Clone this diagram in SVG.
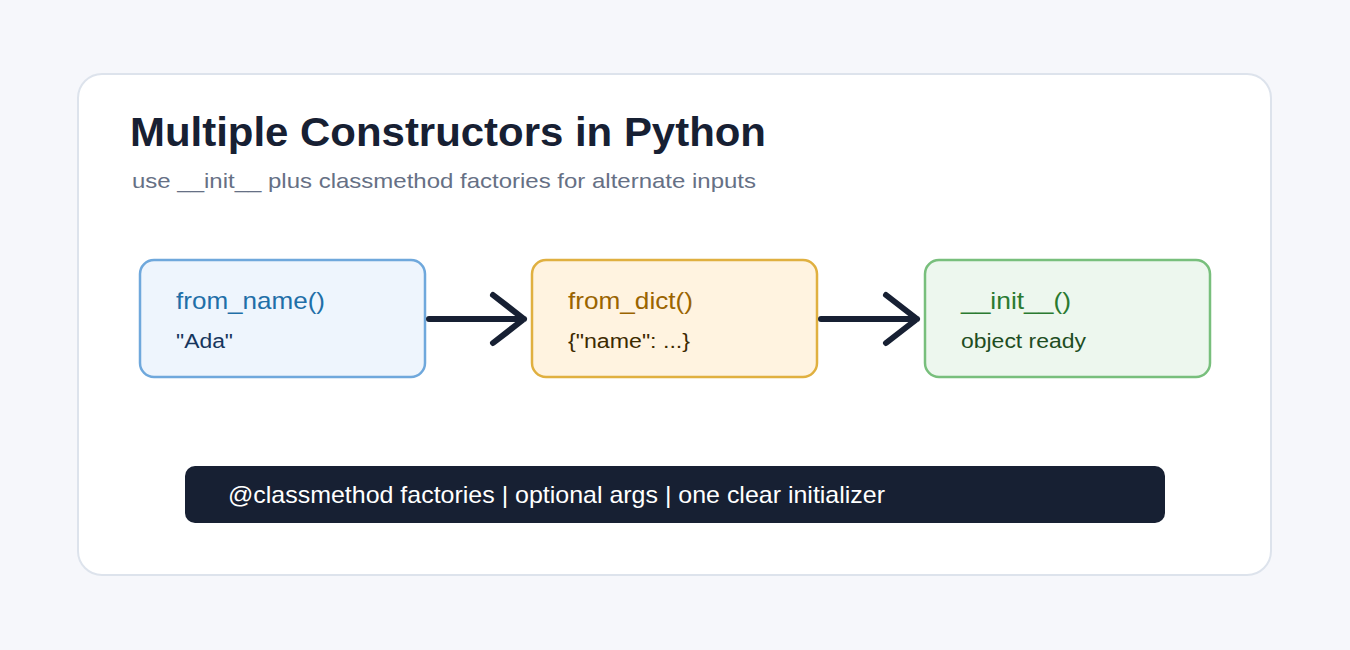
<svg xmlns="http://www.w3.org/2000/svg" width="1350" height="650" viewBox="0 0 1350 650">
<style>
text{font-family:"Liberation Sans",Arial,sans-serif}
.t{font-size:24px}.s{font-size:20px}
.a{fill:none;stroke:#172033;stroke-width:6;stroke-linecap:round;stroke-linejoin:round}
</style>
<rect width="1350" height="650" fill="#f6f7fb"/>
<rect x="78" y="74" width="1193" height="501" rx="24" fill="#fff" stroke="#dde3ec" stroke-width="2"/>
<text x="130" y="146" font-size="40" font-weight="bold" fill="#172033" textLength="636" lengthAdjust="spacingAndGlyphs">Multiple Constructors in Python</text>
<text x="132" y="188" font-size="21" fill="#667085" textLength="624" lengthAdjust="spacingAndGlyphs">use __init__ plus classmethod factories for alternate inputs</text>
<g id="from_name"><rect x="140" y="260" width="285" height="117" rx="14" fill="#eef5fd" stroke="#6fa8dc" stroke-width="2.5"/>
<text x="176" y="309" class="t" fill="#1f6fa8" textLength="149" lengthAdjust="spacingAndGlyphs">from_name()</text><text x="176" y="348" class="s" fill="#17365d" textLength="57" lengthAdjust="spacingAndGlyphs">"Ada"</text></g>
<g id="from_dict"><rect x="532" y="260" width="285" height="117" rx="14" fill="#fff3e0" stroke="#e0b040" stroke-width="2.5"/>
<text x="568" y="309" class="t" fill="#9a6400" textLength="125" lengthAdjust="spacingAndGlyphs">from_dict()</text><text x="568" y="348" class="s" fill="#3d2a00" textLength="122" lengthAdjust="spacingAndGlyphs">{"name": ...}</text></g>
<g id="init"><rect x="925" y="260" width="285" height="117" rx="14" fill="#edf7ee" stroke="#78bf7c" stroke-width="2.5"/>
<text x="961" y="309" class="t" fill="#2a7a30" textLength="110" lengthAdjust="spacingAndGlyphs">__init__()</text><text x="961" y="348" class="s" fill="#1e4d22" textLength="125" lengthAdjust="spacingAndGlyphs">object ready</text></g>
<g id="connectors">
<path class="a" d="M429 319H524M493 295L524 319L493 343"/>
<path class="a" d="M821 319H917M886 295L917 319L886 343"/>
</g>
<g id="footer"><rect x="185" y="466" width="980" height="57" rx="10" fill="#172033"/>
<text x="228" y="503" class="t" fill="#fff" textLength="657" lengthAdjust="spacingAndGlyphs">@classmethod factories | optional args | one clear initializer</text></g>
</svg>
